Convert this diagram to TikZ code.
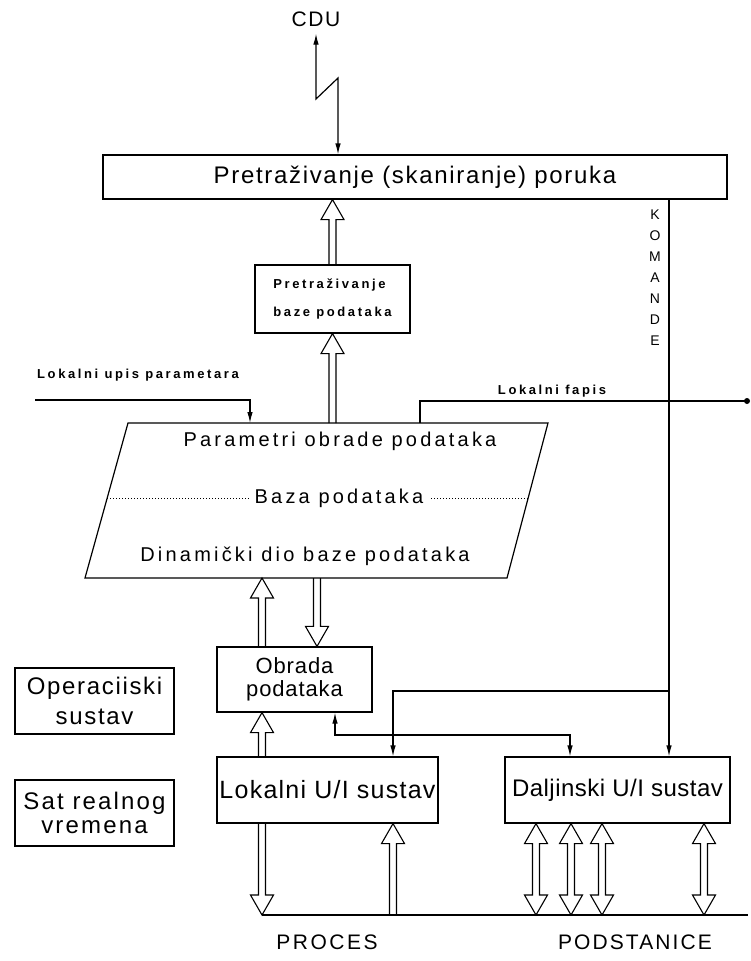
\documentclass[tikz,border=0pt]{standalone}
\usepackage{fontspec}
\setmainfont{Liberation Sans}
\usetikzlibrary{arrows.meta,calc}
\newcommand\ff[3]{\fontsize{#1}{#2}\selectfont\addfontfeature{LetterSpace=#3}}
\begin{document}
\begin{tikzpicture}[x=1pt,y=1pt,
  box/.style={draw, line width=1.2pt, inner sep=0pt, align=center},
  thin/.style={line width=1.2pt},
  tip/.style={thin, -{Latex[length=11pt,width=5.5pt]}},
  tips/.style={thin, {Latex[length=11pt,width=5.5pt]}-{Latex[length=11pt,width=5.5pt]}},
  harrow/.style={line width=1.1pt, to path={
    let \p1=(\tikztostart), \p2=(\tikztotarget), \n1={ifthenelse(\y2>\y1,1,-1)} in
    ({\x1-3.5pt},\y1) -- ({\x1-3.5pt},{\y2-(\n1)*20pt}) -- ({\x1-11.5pt},{\y2-(\n1)*20pt})
    -- (\x1,\y2) -- ({\x1+11.5pt},{\y2-(\n1)*20pt}) -- ({\x1+3.5pt},{\y2-(\n1)*20pt})
    -- ({\x1+3.5pt},\y1)}},
  hdarrow/.style={line width=1.1pt, to path={
    let \p1=(\tikztostart), \p2=(\tikztotarget), \n1={ifthenelse(\y2>\y1,1,-1)} in
    (\x1,\y1) -- ({\x1+11.5pt},{\y1+(\n1)*20pt}) -- ({\x1+3.5pt},{\y1+(\n1)*20pt})
    -- ({\x1+3.5pt},{\y2-(\n1)*20pt}) -- ({\x1+11.5pt},{\y2-(\n1)*20pt}) -- (\x1,\y2)
    -- ({\x1-11.5pt},{\y2-(\n1)*20pt}) -- ({\x1-3.5pt},{\y2-(\n1)*20pt})
    -- ({\x1-3.5pt},{\y1+(\n1)*20pt}) -- ({\x1-11.5pt},{\y1+(\n1)*20pt}) -- cycle}},
]
\useasboundingbox (0,0) rectangle (750,-961);

% ---- nodes
\node[inner sep=2pt, font={\ff{21}{24}{8}}] (cdu) at (316,-19) {CDU};
\node[box, minimum width=624, minimum height=44, font={\ff{24}{28}{7}}] (top) at (415,-177) {Pretraživanje (skaniranje) poruka};
\node[inner sep=0pt, align=center, font={\ff{14}{21}{0}}] (kom) at (655,-278) {K\\O\\M\\A\\N\\D\\E};
\node[box, align=left, minimum width=155, minimum height=68, font={\bfseries\ff{13}{28}{20}}] (small) at (332.5,-299) {Pretraživanje\\baze podataka};
\node[anchor=west, inner sep=0pt, font={\bfseries\ff{13}{16}{20}}] (lu) at (37,-375) {Lokalni upis parametara};
\node[inner sep=0pt, font={\bfseries\ff{13}{16}{20}}] (lf) at (552,-391) {Lokalni fapis};

% parallelogram (data base)
\coordinate (pTL) at (128,-423);
\coordinate (pTR) at (548,-423);
\coordinate (pBR) at (507,-578);
\coordinate (pBL) at (85,-578);
\draw[thin] (pTL) -- (pTR) -- (pBR) -- (pBL) -- cycle;
\draw[line width=0.8pt, dash pattern=on 1.2pt off 1.8pt] ($(pTL)!0.484!(pBL)$) -- ($(pTR)!0.484!(pBR)$);
\node[inner sep=0pt, font={\ff{20}{24}{16}}] (par) at (340,-441) {Parametri obrade podataka};
\node[fill=white, inner xsep=6pt, inner ysep=1pt, font={\ff{20}{24}{16}}] (baza) at (339,-498) {Baza podataka};
\node[inner sep=0pt, font={\ff{20}{24}{16}}] (din) at (305,-556) {Dinamički dio baze podataka};

\node[box, minimum width=155, minimum height=65, font={\ff{22}{23}{4}}] (obr) at (294.5,-679.5) {Obrada\\podataka};
\node[box, minimum width=159, minimum height=66, font={\ff{24}{30}{7}}] (ops) at (94.5,-701) {Operaciiski\\sustav};
\node[box, minimum width=159, minimum height=66, font={\ff{24}{24}{9}}] (sat) at (94.5,-813) {Sat realnog\\vremena};
\node[box, minimum width=221, minimum height=66, font={\ff{25}{28}{5}}] (lok) at (327.5,-790) {Lokalni U/I sustav};
\node[box, minimum width=225, minimum height=66, font={\ff{24}{28}{2}}] (dal) at (617.5,-790) {Daljinski U/I sustav};

\node[inner sep=0pt, font={\ff{21}{24}{12}}] (proc) at (327,-942) {PROCES};
\node[inner sep=0pt, font={\ff{21}{24}{10}}] (pod) at (635,-942) {PODSTANICE};

\coordinate (luS) at (35,-400);
\coordinate (lfE) at (747,-401);
\coordinate (busL) at (262,-915);
\coordinate (busR) at (748,-915);

% ---- connectors
\draw[tips, shorten <=5pt] (cdu.south) -- (316,-99) -- (338,-78) -- (top.north -| 338,0);
\draw[tip] (top.south -| 669,0) -- (dal.north -| 669,0);
\draw[tip] (669,-691) -| (lok.north -| 393,0);
\draw[tips] (obr.south -| 335,0) -- (335,-735) -| (dal.north -| 570,0);

\draw[harrow] (small.north) to (top.south -| small.north);
\draw[harrow] (pTL -| small.south) to (small.south);

\draw[tip] (luS) -- (250,-400) -- (pTL -| 250,0);
\draw[thin] (pTL -| 420,0) -- (420,-401) -- (lfE);
\fill (lfE) circle (3pt);

\draw[harrow] (obr.north -| 262,0) to (pBL -| 262,0);
\draw[harrow] (pBL -| 317,0) to (obr.north -| 317,0);
\draw[harrow] (lok.north -| 262,0) to (obr.south -| 262,0);

\draw[thin] (busL) -- (busR);
\draw[harrow] (lok.south -| 262,0) to (busL);
\draw[harrow] (busL -| 393,0) to (lok.south -| 393,0);
\draw[hdarrow] (dal.south -| 536,0) to (busL -| 536,0);
\draw[hdarrow] (dal.south -| 571,0) to (busL -| 571,0);
\draw[hdarrow] (dal.south -| 602,0) to (busL -| 602,0);
\draw[hdarrow] (dal.south -| 704,0) to (busL -| 704,0);
\end{tikzpicture}
\end{document}
